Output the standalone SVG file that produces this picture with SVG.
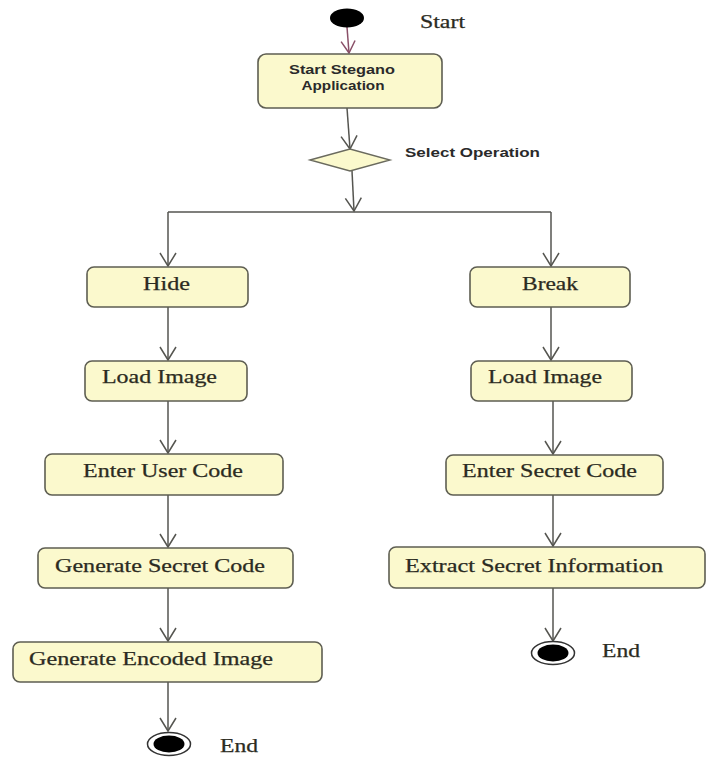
<svg xmlns="http://www.w3.org/2000/svg" width="707" height="758" viewBox="0 0 707 758">
<defs>
<marker id="arr" markerUnits="userSpaceOnUse" markerWidth="30" markerHeight="30" refX="0" refY="0" viewBox="-15 -15 30 30" orient="auto" overflow="visible">
<path d="M -13 -8 L 0 0 L -13 8" fill="none" stroke="#555550" stroke-width="1.5"/>
</marker>
<marker id="arrp" markerUnits="userSpaceOnUse" markerWidth="30" markerHeight="30" refX="0" refY="0" viewBox="-15 -15 30 30" orient="auto" overflow="visible">
<path d="M -12 -7 L 0 0 L -12 7" fill="none" stroke="#8a5068" stroke-width="1.5"/>
</marker>
</defs>
<style>
.box{fill:#fbf9cd;stroke:#5e5e52;stroke-width:1.6}
.lbl{font-family:"Liberation Serif","Times New Roman",serif;font-size:18px;fill:#2b2b22;stroke:#2b2b22;stroke-width:0.25}
.sans{font-family:"Liberation Sans",Arial,sans-serif;font-weight:bold;fill:#2a2a2a}
.edge{fill:none;stroke:#555550;stroke-width:1.5}
</style>
<rect width="707" height="758" fill="#ffffff"/>

<g id="connectors">
<path class="edge" d="M347 27 L349 53" style="stroke:#8a5068" marker-end="url(#arrp)"/>
<path class="edge" d="M347 108 L350 149" marker-end="url(#arr)"/>
<path class="edge" d="M352 171 L354 211" marker-end="url(#arr)"/>
<path class="edge" d="M168 212 L551 212"/>
<path class="edge" d="M168 212 L168 266" marker-end="url(#arr)"/>
<path class="edge" d="M551 212 L551 266" marker-end="url(#arr)"/>
<path class="edge" d="M168 307 L168 360" marker-end="url(#arr)"/>
<path class="edge" d="M168 401 L168 453" marker-end="url(#arr)"/>
<path class="edge" d="M168 495 L168 547" marker-end="url(#arr)"/>
<path class="edge" d="M168 588 L168 641" marker-end="url(#arr)"/>
<path class="edge" d="M168 682 L168 731" marker-end="url(#arr)"/>
<path class="edge" d="M551 307 L551 360" marker-end="url(#arr)"/>
<path class="edge" d="M553 401 L553 454" marker-end="url(#arr)"/>
<path class="edge" d="M553 495 L553 546" marker-end="url(#arr)"/>
<path class="edge" d="M553 588 L553 641" marker-end="url(#arr)"/>
</g>

<g id="start">
<ellipse cx="347" cy="18" rx="17" ry="9.5" fill="#000"/>
<text x="420" y="28" class="lbl" textLength="45" lengthAdjust="spacingAndGlyphs">Start</text>
</g>

<g id="start-stegano">
<rect class="box" x="258" y="54" width="184" height="54" rx="8"/>
<text class="sans" x="342" y="74" font-size="12.5" text-anchor="middle" textLength="106" lengthAdjust="spacingAndGlyphs">Start Stegano</text>
<text class="sans" x="343" y="90" font-size="12.5" text-anchor="middle" textLength="83" lengthAdjust="spacingAndGlyphs">Application</text>
</g>

<g id="select-operation">
<polygon points="310,160 350,149 390,160 350,171" fill="#fbf9cd" stroke="#6a6a5e" stroke-width="1.4"/>
<text class="sans" x="405" y="157" font-size="13.5" textLength="135" lengthAdjust="spacingAndGlyphs">Select Operation</text>
</g>

<g id="hide">
<rect class="box" x="87" y="267" width="161" height="40" rx="7"/>
<text class="lbl" x="143" y="290" textLength="47" lengthAdjust="spacingAndGlyphs">Hide</text>
</g>

<g id="load-image-left">
<rect class="box" x="85" y="361" width="162" height="40" rx="7"/>
<text class="lbl" x="102" y="383" textLength="115" lengthAdjust="spacingAndGlyphs">Load Image</text>
</g>

<g id="enter-user-code">
<rect class="box" x="45" y="454" width="238" height="41" rx="7"/>
<text class="lbl" x="83" y="477" textLength="160" lengthAdjust="spacingAndGlyphs">Enter User Code</text>
</g>

<g id="generate-secret-code">
<rect class="box" x="38" y="548" width="255" height="40" rx="7"/>
<text class="lbl" x="55" y="572" textLength="210" lengthAdjust="spacingAndGlyphs">Generate Secret Code</text>
</g>

<g id="generate-encoded-image">
<rect class="box" x="13" y="642" width="309" height="40" rx="7"/>
<text class="lbl" x="29" y="665" textLength="244" lengthAdjust="spacingAndGlyphs">Generate Encoded Image</text>
</g>

<g id="end-left">
<ellipse cx="169" cy="744" rx="21.5" ry="11.5" fill="#fff" stroke="#333" stroke-width="1.5"/>
<ellipse cx="169" cy="744" rx="15.5" ry="8.5" fill="#000"/>
<text class="lbl" x="220" y="752" textLength="38" lengthAdjust="spacingAndGlyphs">End</text>
</g>

<g id="break">
<rect class="box" x="470" y="267" width="160" height="40" rx="7"/>
<text class="lbl" x="522" y="290" textLength="56" lengthAdjust="spacingAndGlyphs">Break</text>
</g>

<g id="load-image-right">
<rect class="box" x="471" y="361" width="161" height="40" rx="7"/>
<text class="lbl" x="488" y="383" textLength="114" lengthAdjust="spacingAndGlyphs">Load Image</text>
</g>

<g id="enter-secret-code">
<rect class="box" x="446" y="455" width="217" height="40" rx="7"/>
<text class="lbl" x="462" y="477" textLength="175" lengthAdjust="spacingAndGlyphs">Enter Secret Code</text>
</g>

<g id="extract-secret-information">
<rect class="box" x="389" y="547" width="316" height="41" rx="7"/>
<text class="lbl" x="405" y="572" textLength="258" lengthAdjust="spacingAndGlyphs">Extract Secret Information</text>
</g>

<g id="end-right">
<ellipse cx="553" cy="653" rx="21.5" ry="11.5" fill="#fff" stroke="#333" stroke-width="1.5"/>
<ellipse cx="553" cy="653" rx="15.5" ry="8.5" fill="#000"/>
<text class="lbl" x="602" y="657" textLength="38" lengthAdjust="spacingAndGlyphs">End</text>
</g>
</svg>
